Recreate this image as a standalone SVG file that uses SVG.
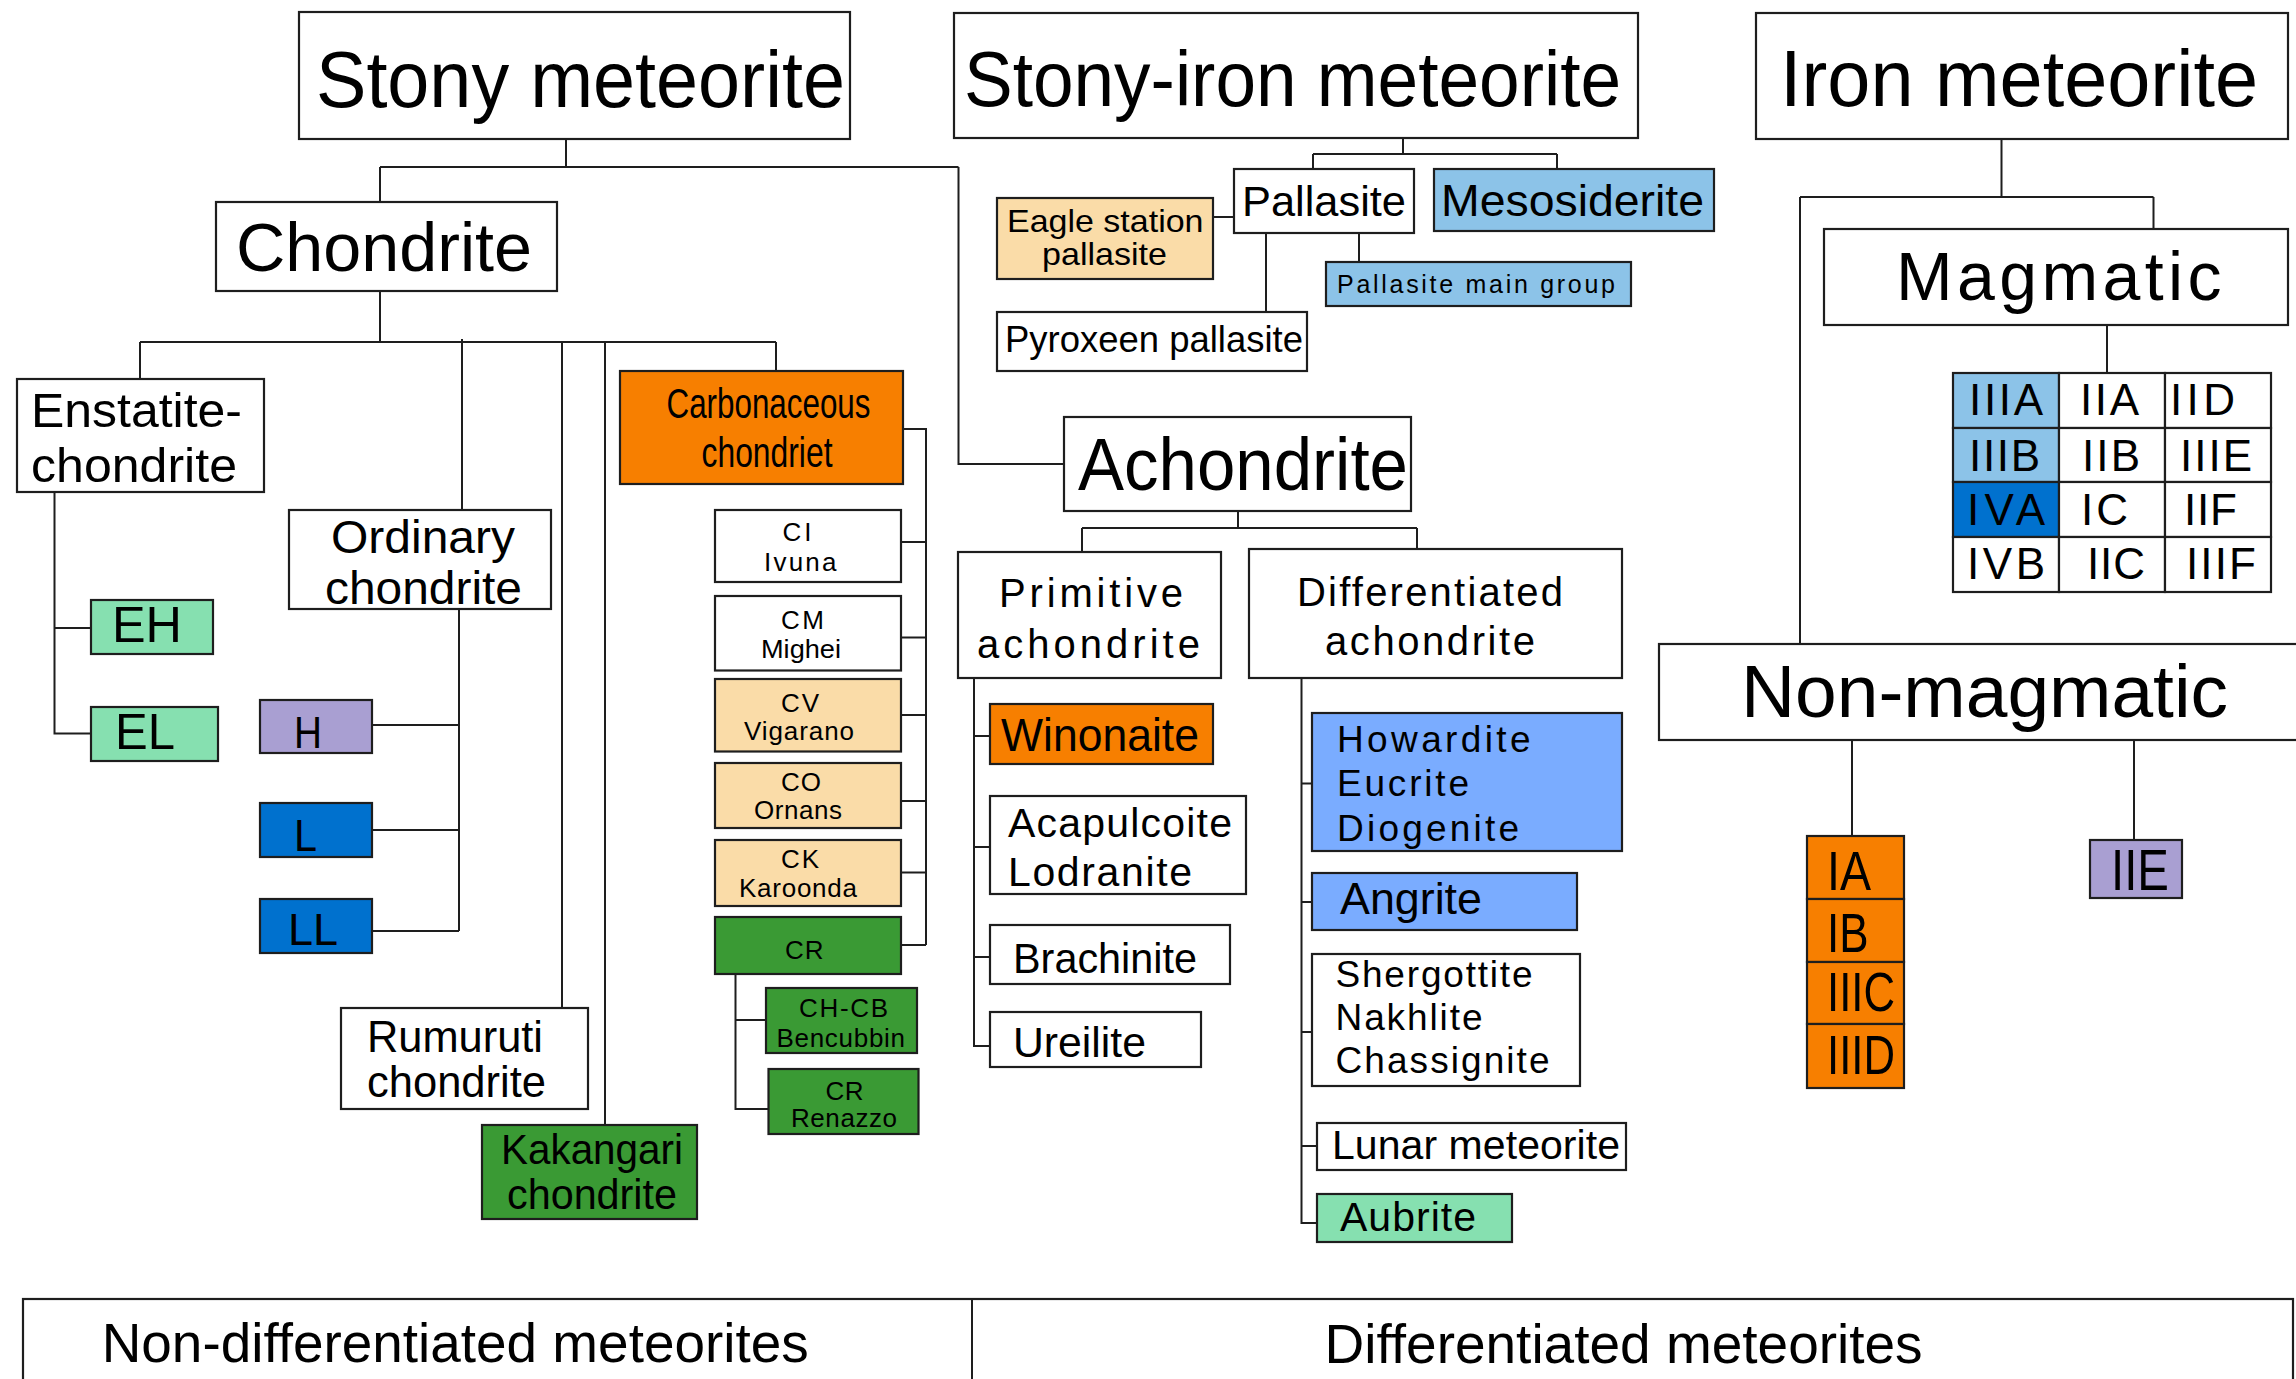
<svg xmlns="http://www.w3.org/2000/svg" width="2296" height="1379" viewBox="0 0 2296 1379">
<style>
rect{stroke:#1e1e1e;stroke-width:2.2;fill:#fff}
.org{fill:#f77f00}.pch{fill:#fadca8}.lbl{fill:#8cc3e8}.blu{fill:#0071ce}.mnt{fill:#86e0b0}.lav{fill:#a99fd2}.grn{fill:#3a9a34}.hed{fill:#7aacff}
text{font-family:"Liberation Sans",Arial,sans-serif;fill:#000}
.sg{}
#conn path{fill:none;stroke:#1e1e1e;stroke-width:2}
</style>
<rect x="-5" y="-5" width="2310" height="1390" style="fill:#fff;stroke:none"/>
<g id="conn">
<path d="M566,139V167M380,167H958.5M380,167V202M958.5,167V464H1064"/>
<path d="M380,291V342M140,342H776M140,342V379M462,339V510M562,342V1008M605,342V1125M776,342V371"/>
<path d="M54.5,492V733.5H91M54.5,628H91"/>
<path d="M459,609V931M372,725H459M372,830H459M372,931H459"/>
<path d="M903,429H926V945M901,542H926M901,637.5H926M901,715H926M901,801H926M901,872.6H926M901,945H926"/>
<path d="M735.5,974V1109H768.5M735.5,1020H766"/>
<path d="M1403,138V154M1313,154H1557M1313,154V169M1557,154V169M1213,217H1234M1266,233V312M1359,233V262"/>
<path d="M1238,511V528M1082,528H1417M1082,528V552M1417,528V549"/>
<path d="M974,678V1046H990M974,736H990M974,847H990M974,957H990"/>
<path d="M1301.5,678V1223H1317M1301.5,783.6H1312M1301.5,902H1312M1301.5,1032H1312M1301.5,1146H1317"/>
<path d="M2001.5,139V197M1800,197H2153.5M2153.5,197V229M1800,197V645"/>
<path d="M2107,325V373M1852,740V836M2134,740V840"/>
</g>
<g id="stony"><rect x="299" y="12" width="551" height="127"/><text x="316" y="107" font-size="79" textLength="529" lengthAdjust="spacingAndGlyphs">Stony meteorite</text></g>
<g id="stonyiron"><rect x="954" y="13" width="684" height="125"/><text x="964" y="106" font-size="78" textLength="657" lengthAdjust="spacingAndGlyphs">Stony-iron meteorite</text></g>
<g id="iron"><rect x="1756" y="13" width="532" height="126"/><text x="1780" y="106" font-size="80" textLength="478" lengthAdjust="spacingAndGlyphs">Iron meteorite</text></g>
<g id="chondrite"><rect x="216" y="202" width="341" height="89"/><text x="236" y="271" font-size="68" textLength="296" lengthAdjust="spacingAndGlyphs">Chondrite</text></g>
<g id="enstatite"><rect x="17" y="379" width="247" height="113"/><text x="31" y="427" font-size="49" textLength="211" lengthAdjust="spacingAndGlyphs">Enstatite-</text><text x="31" y="482" font-size="49" textLength="206" lengthAdjust="spacingAndGlyphs">chondrite</text></g>
<g id="ordinary"><rect x="289" y="510" width="262" height="99"/><text x="331" y="553" font-size="46" textLength="184" lengthAdjust="spacingAndGlyphs">Ordinary</text><text x="325" y="604" font-size="46" textLength="197" lengthAdjust="spacingAndGlyphs">chondrite</text></g>
<g id="carbonaceous"><rect class="org" x="620" y="371" width="283" height="113"/><text x="666.5" y="418" font-size="42" textLength="204" lengthAdjust="spacingAndGlyphs">Carbonaceous</text><text x="701.5" y="467" font-size="42" textLength="131" lengthAdjust="spacingAndGlyphs">chondriet</text></g>
<g id="eh"><rect class="mnt" x="91" y="600" width="122" height="54"/><text x="112" y="642" font-size="50" textLength="70" lengthAdjust="spacingAndGlyphs">EH</text></g>
<g id="el"><rect class="mnt" x="91" y="707" width="127" height="54"/><text x="115" y="749" font-size="50" textLength="60" lengthAdjust="spacingAndGlyphs">EL</text></g>
<g id="h"><rect class="lav" x="260" y="700" width="112" height="53"/><text x="294" y="748" font-size="45" textLength="28" lengthAdjust="spacingAndGlyphs">H</text></g>
<g id="l"><rect class="blu" x="260" y="803" width="112" height="54"/><text x="294" y="851" font-size="45" textLength="23" lengthAdjust="spacingAndGlyphs">L</text></g>
<g id="ll"><rect class="blu" x="260" y="899" width="112" height="54"/><text x="288" y="945" font-size="45" textLength="50" lengthAdjust="spacingAndGlyphs">LL</text></g>
<g id="rumuruti"><rect x="341" y="1008" width="247" height="101"/><text x="367" y="1052" font-size="44" textLength="176" lengthAdjust="spacingAndGlyphs">Rumuruti</text><text x="367" y="1097" font-size="44" textLength="179" lengthAdjust="spacingAndGlyphs">chondrite</text></g>
<g id="kakangari"><rect class="grn" x="482" y="1125" width="215" height="94"/><text x="501" y="1164" font-size="42" textLength="182" lengthAdjust="spacingAndGlyphs">Kakangari</text><text x="507" y="1209" font-size="42" textLength="170" lengthAdjust="spacingAndGlyphs">chondrite</text></g>
<g id="ci"><rect x="715" y="510" width="186" height="72"/><text x="782.6" y="541" font-size="26" textLength="29" lengthAdjust="spacing">CI</text><text x="764" y="571" font-size="26" textLength="72.5" lengthAdjust="spacing">Ivuna</text></g>
<g id="cm"><rect x="715" y="596" width="186" height="74.5"/><text x="781" y="629" font-size="26" textLength="43" lengthAdjust="spacing">CM</text><text x="761" y="658" font-size="26" textLength="80" lengthAdjust="spacingAndGlyphs">Mighei</text></g>
<g id="cv"><rect class="pch" x="715" y="679" width="186" height="72.5"/><text x="781" y="712" font-size="26" textLength="38" lengthAdjust="spacing">CV</text><text x="744" y="740" font-size="26" textLength="110" lengthAdjust="spacing">Vigarano</text></g>
<g id="co"><rect class="pch" x="715" y="763" width="186" height="65"/><text x="781" y="791" font-size="26" textLength="40" lengthAdjust="spacing">CO</text><text x="754" y="819" font-size="26" textLength="88" lengthAdjust="spacing">Ornans</text></g>
<g id="ck"><rect class="pch" x="715" y="840" width="186" height="66"/><text x="781" y="868" font-size="26" textLength="38" lengthAdjust="spacing">CK</text><text x="739" y="897" font-size="26" textLength="118" lengthAdjust="spacing">Karoonda</text></g>
<g id="cr"><rect class="grn" x="715" y="917" width="186" height="57"/><text x="785" y="959" font-size="26" textLength="38.6" lengthAdjust="spacing">CR</text></g>
<g id="chcb"><rect class="grn" x="766" y="988" width="151" height="65"/><text x="799" y="1017" font-size="26" textLength="89" lengthAdjust="spacing">CH-CB</text><text x="776.5" y="1047" font-size="26" textLength="128.5" lengthAdjust="spacing">Bencubbin</text></g>
<g id="crrenazzo"><rect class="grn" x="768.5" y="1069" width="150" height="65"/><text x="825.5" y="1099.5" font-size="26" textLength="38" lengthAdjust="spacing">CR</text><text x="791" y="1127" font-size="26" textLength="106" lengthAdjust="spacing">Renazzo</text></g>
<g id="eagle"><rect class="pch" x="997" y="198" width="216" height="81"/><text x="1007" y="232" font-size="32" textLength="196.5" lengthAdjust="spacingAndGlyphs">Eagle station</text><text x="1042" y="265" font-size="32" textLength="125" lengthAdjust="spacingAndGlyphs">pallasite</text></g>
<g id="pallasite"><rect x="1234" y="169" width="180" height="64"/><text x="1242" y="216" font-size="42" textLength="164" lengthAdjust="spacingAndGlyphs">Pallasite</text></g>
<g id="mesosiderite"><rect class="lbl" x="1434" y="169" width="280" height="62"/><text x="1441" y="216" font-size="44" textLength="263" lengthAdjust="spacingAndGlyphs">Mesosiderite</text></g>
<g id="pmg"><rect class="lbl" x="1326" y="262" width="305" height="44"/><text x="1337" y="293" font-size="25" textLength="278" lengthAdjust="spacing">Pallasite main group</text></g>
<g id="pyroxeen"><rect x="997" y="312" width="310" height="59"/><text x="1005" y="352" font-size="37" textLength="298" lengthAdjust="spacingAndGlyphs">Pyroxeen pallasite</text></g>
<g id="achondrite"><rect x="1064" y="417" width="347" height="94"/><text x="1078" y="490" font-size="74" textLength="330" lengthAdjust="spacingAndGlyphs">Achondrite</text></g>
<g id="primitive"><rect x="958" y="552" width="263" height="126"/><text x="999" y="607" font-size="40" textLength="184" lengthAdjust="spacing">Primitive</text><text x="977" y="657.5" font-size="40" textLength="223" lengthAdjust="spacing">achondrite</text></g>
<g id="differentiated"><rect x="1249" y="549" width="373" height="129"/><text x="1297" y="606" font-size="40" textLength="266" lengthAdjust="spacing">Differentiated</text><text x="1325" y="655" font-size="40" textLength="210" lengthAdjust="spacing">achondrite</text></g>
<g id="winonaite"><rect class="org" x="990" y="704" width="223" height="60"/><text x="1001" y="751" font-size="46" textLength="198" lengthAdjust="spacingAndGlyphs">Winonaite</text></g>
<g id="acapulcoite"><rect x="990" y="796" width="256" height="98"/><text x="1008" y="837" font-size="41" textLength="224" lengthAdjust="spacing">Acapulcoite</text><text x="1008" y="886" font-size="41" textLength="184" lengthAdjust="spacing">Lodranite</text></g>
<g id="brachinite"><rect x="990" y="925" width="240" height="59"/><text x="1013" y="973" font-size="42" textLength="184" lengthAdjust="spacingAndGlyphs">Brachinite</text></g>
<g id="ureilite"><rect x="990" y="1012" width="211" height="55"/><text x="1013" y="1057" font-size="42" textLength="133" lengthAdjust="spacingAndGlyphs">Ureilite</text></g>
<g id="hed"><rect class="hed" x="1312" y="713" width="310" height="138"/><text x="1337" y="752" font-size="37" textLength="193.5" lengthAdjust="spacing">Howardite</text><text x="1337" y="796" font-size="37" textLength="132" lengthAdjust="spacing">Eucrite</text><text x="1337" y="841" font-size="37" textLength="182" lengthAdjust="spacing">Diogenite</text></g>
<g id="angrite"><rect class="hed" x="1312" y="873" width="265" height="57"/><text x="1340" y="914" font-size="44" textLength="142" lengthAdjust="spacingAndGlyphs">Angrite</text></g>
<g id="snc"><rect x="1312" y="954" width="268" height="132"/><text x="1335.5" y="987" font-size="37" textLength="197" lengthAdjust="spacing">Shergottite</text><text x="1335.5" y="1030" font-size="37" textLength="147" lengthAdjust="spacing">Nakhlite</text><text x="1335.5" y="1073" font-size="37" textLength="214" lengthAdjust="spacing">Chassignite</text></g>
<g id="lunar"><rect x="1317" y="1123" width="309" height="47"/><text x="1332" y="1159" font-size="41" textLength="288" lengthAdjust="spacing">Lunar meteorite</text></g>
<g id="aubrite"><rect class="mnt" x="1317" y="1194" width="195" height="48"/><text x="1340" y="1231" font-size="41" textLength="136" lengthAdjust="spacing">Aubrite</text></g>
<g id="magmatic"><rect x="1824" y="229" width="464" height="96"/><text x="1896" y="300" font-size="68" textLength="325.5" lengthAdjust="spacing">Magmatic</text></g>
<g id="magmatic-groups">
<rect class="lbl" x="1953" y="373" width="106" height="55"/><rect x="2059" y="373" width="106" height="55"/><rect x="2165" y="373" width="106" height="55"/>
<rect class="lbl" x="1953" y="428" width="106" height="54"/><rect x="2059" y="428" width="106" height="54"/><rect x="2165" y="428" width="106" height="54"/>
<rect class="blu" x="1953" y="482" width="106" height="55"/><rect x="2059" y="482" width="106" height="55"/><rect x="2165" y="482" width="106" height="55"/>
<rect x="1953" y="537" width="106" height="55"/><rect x="2059" y="537" width="106" height="55"/><rect x="2165" y="537" width="106" height="55"/>
<g font-size="44">
<text x="1969" y="415" textLength="74" lengthAdjust="spacing">IIIA</text><text x="2080" y="415" textLength="59" lengthAdjust="spacing">IIA</text><text x="2170" y="415" textLength="65" lengthAdjust="spacing">IID</text>
<text x="1969" y="471" textLength="71" lengthAdjust="spacing">IIIB</text><text x="2082" y="471" textLength="58" lengthAdjust="spacing">IIB</text><text x="2180" y="471" textLength="72" lengthAdjust="spacing">IIIE</text>
<text x="1967" y="525" textLength="78" lengthAdjust="spacing">IVA</text><text x="2081" y="525" textLength="47" lengthAdjust="spacing">IC</text><text x="2184" y="525" textLength="53" lengthAdjust="spacing">IIF</text>
<text x="1967" y="579" textLength="78" lengthAdjust="spacing">IVB</text><text x="2087" y="579" textLength="58" lengthAdjust="spacing">IIC</text><text x="2186" y="579" textLength="70" lengthAdjust="spacing">IIIF</text>
</g></g>
<g id="nonmagmatic"><rect x="1659" y="644" width="640" height="96"/><text x="1741" y="717" font-size="75" textLength="487" lengthAdjust="spacingAndGlyphs">Non-magmatic</text></g>
<g id="nonmagmatic-groups">
<rect class="org" x="1807" y="836" width="97" height="63"/><rect class="org" x="1807" y="899" width="97" height="63"/><rect class="org" x="1807" y="962" width="97" height="62"/><rect class="org" x="1807" y="1024" width="97" height="64"/>
<g font-size="56"><text x="1827" y="890" textLength="44" lengthAdjust="spacingAndGlyphs">IA</text><text x="1827" y="952" textLength="41.5" lengthAdjust="spacingAndGlyphs">IB</text><text x="1827" y="1011" textLength="68" lengthAdjust="spacingAndGlyphs">IIIC</text><text x="1827" y="1074" textLength="68" lengthAdjust="spacingAndGlyphs">IIID</text></g>
</g>
<g id="iie"><rect class="lav" x="2090" y="840" width="92" height="58"/><text x="2111" y="890" font-size="58" textLength="58" lengthAdjust="spacingAndGlyphs">IIE</text></g>
<g id="bottom-band"><rect x="23" y="1299" width="2270" height="100"/><path d="M972,1299V1385" style="stroke:#1e1e1e;stroke-width:2"/>
<text x="101.7" y="1362" font-size="55" textLength="707" lengthAdjust="spacingAndGlyphs">Non-differentiated meteorites</text>
<text x="1324.6" y="1363" font-size="55" textLength="598" lengthAdjust="spacingAndGlyphs">Differentiated meteorites</text></g>
</svg>
